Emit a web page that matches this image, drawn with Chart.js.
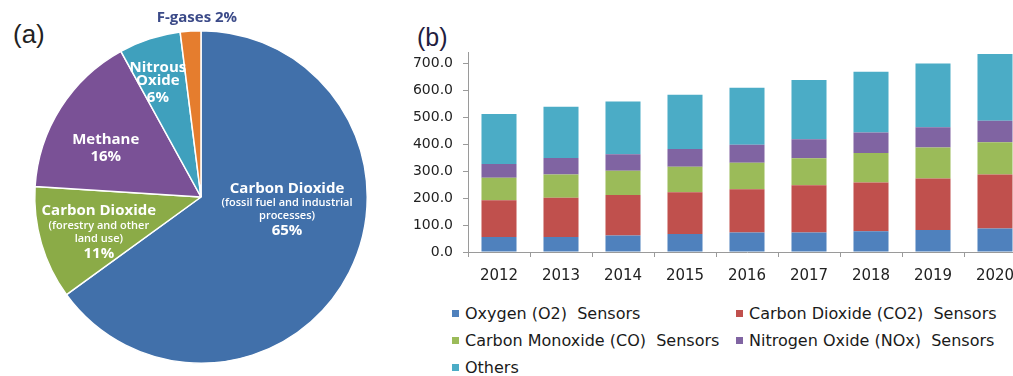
<!DOCTYPE html>
<html>
<head>
<meta charset="utf-8">
<script src="https://cdn.jsdelivr.net/npm/chart.js@4.4.1/dist/chart.umd.min.js"></script>
<style>
  html, body { margin: 0; padding: 0; background: #fff; }
  body { width: 1013px; height: 376px; position: relative; overflow: hidden; }
  .tag { position: absolute; font-family: "Liberation Sans", Arial, sans-serif; line-height: 1; color: #222; }
  #pieBox { position: absolute; left: 0; top: 0; width: 402px; height: 376px; }
  #barBox { position: absolute; left: 400px; top: 0; width: 630px; height: 290px; }
  #legend { position: absolute; left: 452px; top: 300px; display: grid; grid-template-columns: 284px auto;
            font: 16px "DejaVu Sans", sans-serif; color: #1a1a1a; }
  #legend .item { height: 27px; line-height: 27px; white-space: pre; }
  #legend .box { display: inline-block; width: 7px; height: 7px; margin-right: 6px; vertical-align: middle; position: relative; top: -1px; }
</style>
</head>
<body>
<div class="tag" style="left:13px; top:21px; font-size:26px;">(a)</div>
<div class="tag" style="left:417px; top:25px; font-size:25px; color:#1f2040;">(b)</div>
<div id="pieBox"><canvas id="pie"></canvas></div>
<div id="barBox"><canvas id="bars"></canvas></div>
<div id="legend"></div>

<script>
// ---- (a) greenhouse gas shares ----
const gasTitles = [['Carbon Dioxide'], ['Carbon Dioxide'], ['Methane'], ['Nitrous', 'Oxide'], ['F-gases']];
const gasNotes = [['(fossil fuel and industrial', 'processes)'], ['(forestry and other', 'land use)'], [], [], []];
const gasShares = [65, 11, 16, 6, 2];

// ---- (b) gas sensor market ----
const years = ['2012', '2013', '2014', '2015', '2016', '2017', '2018', '2019', '2020'];
const seriesNames = ['Oxygen (O2)  Sensors', 'Carbon Dioxide (CO2)  Sensors', 'Carbon Monoxide (CO)  Sensors',
                     'Nitrogen Oxide (NOx)  Sensors', 'Others'];
const oxygen = [56, 56, 61, 67, 72, 72, 77, 82, 87];
const carbonDioxide = [136, 146, 151, 155, 161, 176, 181, 191, 201];
const carbonMonoxide = [84, 86, 90, 95, 99, 100, 110, 115, 120];
const nitrogenOxide = [51, 61, 61, 66, 66, 71, 76, 75, 80];
const others = [186, 191, 196, 201, 212, 220, 226, 237, 248];
const yTicks = [0, 100, 200, 300, 400, 500, 600, 700];

const pieColors = ['#4170aa', '#8bab47', '#7a5196', '#3fa0bd', '#e57d2e'];
const barColors = ['#4f81bd', '#c0504d', '#9bbb59', '#8064a2', '#4bacc6'];

// where each slice label sits: angle clockwise from 12 o'clock, fraction of radius
const labelPlace = [
  { angle: 98.3, r: 0.523 },
  { angle: 251, r: 0.65 },
  { angle: 297, r: 0.643 },
  { angle: 339.3, r: 0.734, lead: [13, 17] },
  { angle: 358.7, r: 1.078, inline: true, color: '#3b4a88' }
];

const BIG = 'bold 15px "Open Sans", "DejaVu Sans", sans-serif';
const SMALL = '600 11px "Open Sans", "DejaVu Sans", sans-serif';

const sliceLabels = {
  id: 'sliceLabels',
  afterDatasetsDraw(chart) {
    const ctx = chart.ctx;
    const arcs = chart.getDatasetMeta(0).data;
    ctx.save();
    ctx.textAlign = 'center';
    ctx.textBaseline = 'middle';
    arcs.forEach((arc, i) => {
      const p = labelPlace[i];
      let lines = [];
      if (p.inline) {
        lines.push([gasTitles[i].join(' ') + ' ' + gasShares[i] + '%', 15]);
      } else {
        gasTitles[i].forEach(t => lines.push([t, 15]));
        gasNotes[i].forEach(t => lines.push([t, 11]));
        lines.push([gasShares[i] + '%', 15]);
      }
      const gaps = [];
      for (let k = 1; k < lines.length; k++) {
        gaps.push(p.lead ? p.lead[k - 1] : (lines[k - 1][1] + lines[k][1]) / 2 * 1.15);
      }
      const total = gaps.reduce((a, b) => a + b, 0);
      const a = p.angle * Math.PI / 180;
      const cx = arc.x + Math.sin(a) * p.r * arc.outerRadius;
      const cy = arc.y - Math.cos(a) * p.r * arc.outerRadius;
      let y = cy - total / 2;
      ctx.fillStyle = p.color || '#ffffff';
      lines.forEach((ln, k) => {
        if (k > 0) y += gaps[k - 1];
        ctx.font = ln[1] > 12 ? BIG : SMALL;
        ctx.fillText(ln[0], cx, y);
      });
    });
    ctx.restore();
  }
};

new Chart(document.getElementById('pie'), {
  type: 'pie',
  data: {
    labels: gasTitles.map((t, i) => t.join(' ') + (gasNotes[i].length ? ' ' + gasNotes[i].join(' ') : '')),
    datasets: [{
      data: gasShares,
      backgroundColor: pieColors,
      borderColor: '#ffffff',
      borderWidth: 1.5
    }]
  },
  options: {
    responsive: true,
    maintainAspectRatio: false,
    animation: false,
    layout: { padding: { top: 30, bottom: 12, left: 34, right: 34 } },
    plugins: { legend: { display: false }, tooltip: { enabled: false } }
  },
  plugins: [sliceLabels]
});

const htmlLegend = {
  id: 'htmlLegend',
  afterUpdate(chart) {
    const box = document.getElementById('legend');
    box.innerHTML = '';
    chart.data.datasets.forEach(ds => {
      const item = document.createElement('div');
      item.className = 'item';
      const sq = document.createElement('span');
      sq.className = 'box';
      sq.style.background = ds.backgroundColor;
      item.appendChild(sq);
      item.appendChild(document.createTextNode(ds.label));
      box.appendChild(item);
    });
  }
};

const seriesData = [oxygen, carbonDioxide, carbonMonoxide, nitrogenOxide, others];

new Chart(document.getElementById('bars'), {
  type: 'bar',
  data: {
    labels: years,
    datasets: seriesData.map((d, i) => ({
      label: seriesNames[i],
      data: d,
      backgroundColor: barColors[i],
      borderWidth: 0,
      categoryPercentage: 1,
      barPercentage: 0.565
    }))
  },
  options: {
    responsive: true,
    maintainAspectRatio: false,
    animation: false,
    layout: { padding: { top: 52, right: 4, left: 0, bottom: 0 } },
    plugins: { legend: { display: false }, tooltip: { enabled: false } },
    scales: {
      x: {
        stacked: true,
        afterFit(s) { s.height = 38; },
        grid: { drawOnChartArea: false, tickLength: 5, color: '#9a9a9a', offset: true },
        border: { color: '#9a9a9a' },
        ticks: { font: { family: '"DejaVu Sans", sans-serif', size: 15 }, color: '#222', padding: 10, maxRotation: 0 }
      },
      y: {
        stacked: true,
        min: 0,
        max: 743,
        afterFit(s) { s.width = 68; },
        afterBuildTicks(s) { s.ticks = yTicks.map(v => ({ value: v })); },
        grid: { drawOnChartArea: false, tickLength: 5, color: '#9a9a9a' },
        border: { color: '#9a9a9a' },
        ticks: {
          font: { family: '"DejaVu Sans", sans-serif', size: 14 }, color: '#222', padding: 10,
          callback: v => Number(v).toFixed(1)
        }
      }
    }
  },
  plugins: [htmlLegend]
});
</script>
</body>
</html>
